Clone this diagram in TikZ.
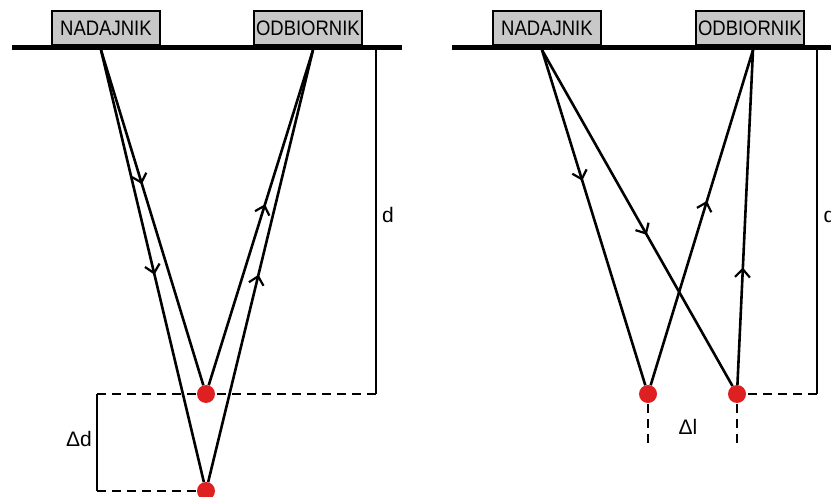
\documentclass[tikz,border=0pt]{standalone}
\usepackage{fontspec}
\setmainfont{Liberation Sans}
\newfontfamily\boxfont[FakeStretch=0.88]{Liberation Sans}
\usetikzlibrary{arrows.meta,decorations.markings}

\definecolor{boxgray}{RGB}{200,200,200}
\definecolor{dotred}{RGB}{222,32,32}

\tikzset{
  unit/.style={draw=black,line width=1.8pt,fill=boxgray,minimum width=108pt,
    minimum height=34pt,inner sep=0pt,anchor=south west,font=\boxfont\fontsize{21}{21}\selectfont},
  ground/.style={line width=5pt},
  ray/.style={line width=2.6pt},
  midarrow/.style={postaction={decorate},decoration={markings,
    mark=at position #1 with {\arrow{Straight Barb[length=8pt,width=15pt,line width=2.2pt]}}}},
  target/.style={circle,fill=dotred,minimum size=18pt,inner sep=0pt},
  dim/.style={line width=1.1pt},
  dimdash/.style={line width=1.1pt,dash pattern=on 9pt off 6pt},
  lbl/.style={font=\fontsize{21}{21}\selectfont,inner sep=0pt}
}

\begin{document}
\begin{tikzpicture}[x=1pt,y=-1pt]
\useasboundingbox (0,0) rectangle (831,497);

% left: depth
\draw[ground] (12,48) -- (402,48);
\node[unit] (tx1) at (51,46) {NADAJNIK};
\node[unit] (rx1) at (253,46) {ODBIORNIK};
\coordinate (e1) at (101,50);
\coordinate (r1) at (313,50);

\coordinate (d1top) at (376,50);
\coordinate (d1bot) at (376,394);
\coordinate (dd1) at (97,394);
\coordinate (dd2) at (97,491);
\draw[dim] (d1top) -- (d1bot);
\draw[dimdash] (d1bot) -- (dd1);
\draw[dim] (dd1) -- (dd2);

\node[target] (p1) at (206,394) {};
\node[target] (p2) at (206,491) {};
\draw[dimdash] (dd2) -- (p2);

\draw[ray,midarrow=0.4] (e1) -- (p1);
\draw[ray,midarrow=0.52] (e1) -- (p2);
\draw[ray,midarrow=0.54] (p1) -- (r1);
\draw[ray,midarrow=0.48] (p2) -- (r1);

\node[lbl] (dlab1) at (388,215) {d};
\node[lbl] (ddlab) at (79,439) {Δd};

% right: offset
\draw[ground] (452,48) -- (831,48);
\node[unit] (tx2) at (492,46) {NADAJNIK};
\node[unit] (rx2) at (695,46) {ODBIORNIK};
\coordinate (e2) at (542,50);
\coordinate (r2) at (753,50);

\coordinate (d2top) at (817,50);
\coordinate (d2bot) at (817,394);
\draw[dim] (d2top) -- (d2bot);

\node[target] (q1) at (648,394) {};
\node[target] (q2) at (737,394) {};
\draw[dimdash] (d2bot) -- (q2);
\coordinate (l1a) at (648,404);
\coordinate (l1b) at (648,448);
\coordinate (l2a) at (737,404);
\coordinate (l2b) at (737,448);
\draw[dimdash] (l1a) -- (l1b);
\draw[dimdash] (l2a) -- (l2b);

\draw[ray,midarrow=0.39] (e2) -- (q1);
\draw[ray,midarrow=0.55] (e2) -- (q2);
\draw[ray,midarrow=0.55] (q1) -- (r2);
\draw[ray,midarrow=0.35] (q2) -- (r2);

\node[lbl] (dlab2) at (829.5,215) {d};
\node[lbl] (dllab) at (688,427) {Δl};
\end{tikzpicture}
\end{document}
